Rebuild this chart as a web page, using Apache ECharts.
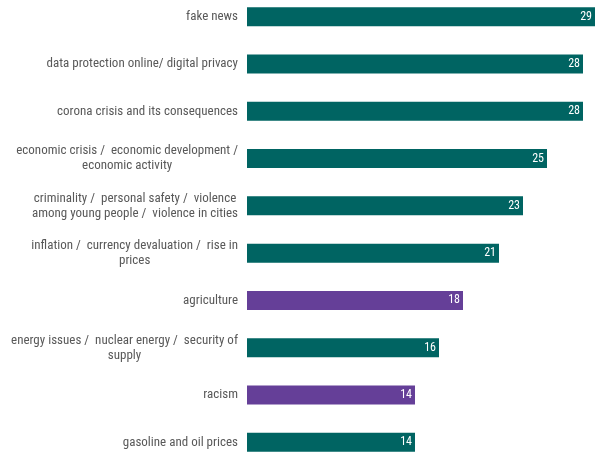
<!DOCTYPE html>
<html>
<head>
<meta charset="utf-8">
<script src="https://cdn.jsdelivr.net/npm/echarts@6/dist/echarts.min.js"></script>
<style>html,body{margin:0;padding:0;background:#fff;overflow:hidden;}#c{position:absolute;left:0;top:-7px;width:599px;height:473px;}</style>
</head>
<body>
<div id="c"></div>
<script>
var categories = [
  'fake news',
  'data protection online/ digital privacy',
  'corona crisis and its consequences',
  'economic crisis /  economic development /\neconomic activity',
  'criminality /  personal safety /  violence\namong young people /  violence in cities',
  'inflation /  currency devaluation /  rise in\nprices',
  'agriculture',
  'energy issues /  nuclear energy /  security of\nsupply',
  'racism',
  'gasoline and oil prices'
];
var values = [29, 28, 28, 25, 23, 21, 18, 16, 14, 14];
var highlighted = ['agriculture', 'racism'];

var TEAL = '#006462';
var PURPLE = '#653f98';
var FONT = '"Liberation Sans Narrow", "Roboto Condensed", "Arial Narrow", sans-serif';

var chart = echarts.init(document.getElementById('c'), null, {renderer: 'canvas'});
chart.setOption({
  animation: false,
  grid: {left: 247, right: 0, top: 0, bottom: 0, containLabel: false},
  xAxis: {
    type: 'value', min: 0, max: 352 / 12,
    show: false
  },
  yAxis: {
    type: 'category', data: categories, inverse: true,
    axisLine: {show: false}, axisTick: {show: false}, splitLine: {show: false},
    axisLabel: {
      margin: 9, align: 'right',
      fontFamily: FONT, fontSize: 13, color: '#595959', lineHeight: 15,
      formatter: function (v) {
        return v.split('\n').map(function (l) { return '{c|' + l + '}'; }).join('\n');
      },
      rich: {c: {align: 'center', fontFamily: FONT, fontSize: 13, color: '#595959', lineHeight: 15}}
    }
  },
  series: [{
    type: 'bar',
    barWidth: 19,
    data: values.map(function (v, i) {
      var hl = highlighted.indexOf(categories[i]) >= 0;
      return {value: v, itemStyle: {color: hl ? PURPLE : TEAL}};
    }),
    label: {
      show: true, position: 'insideRight', distance: 3,
      color: '#ffffff', fontFamily: FONT, fontSize: 12
    }
  }]
});
</script>
</body>
</html>
